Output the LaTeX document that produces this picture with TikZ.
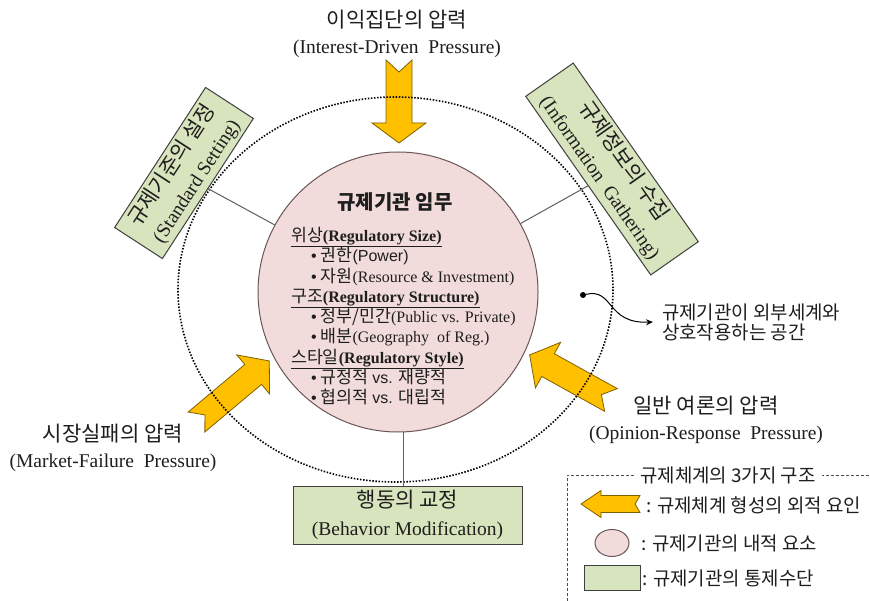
\documentclass[tikz,border=0pt]{standalone}
\usepackage{fontspec}
\setmainfont{Liberation Serif}
\newfontfamily\kr[Scale=1.08]{Noto Sans CJK KR}
\newfontfamily\ar{Liberation Sans}
\usetikzlibrary{shapes.geometric,arrows.meta}

\definecolor{ink}{HTML}{1E1E1E}
\definecolor{amber}{HTML}{FFC000}
\definecolor{amberline}{HTML}{7F6000}
\definecolor{blush}{HTML}{F2DCDB}
\definecolor{blushline}{HTML}{6B5757}
\definecolor{sage}{HTML}{D7E4BD}
\definecolor{sageline}{HTML}{3F3F3F}
\definecolor{linkgray}{HTML}{5F5F5F}

% heading line inside the central circle
\newcommand\sectline[2]{\underline{{\kr #1}\textbf{#2}}}
% bulleted entry inside the central circle
\newcommand\bulletline[1]{\hspace*{20pt}{\ar •}\ #1}

\begin{document}
\begin{tikzpicture}[x=1pt,y=-1pt,
  every node/.style={text=ink},
  pressure/.style={fill=amber,draw=amberline,line width=0.8pt,line join=miter},
  pics/pressarrow/.style args={#1/#2/#3/#4/#5}{code={
    \path[pressure] (0,#2) -- ({#1-#4},#2) -- ({#1-#4},#3) -- (#1,0)
      -- ({#1-#4},-#3) -- ({#1-#4},-#2) -- (0,-#2) -- (#5,0) -- cycle;}},
  zone/.style={draw=black,line width=1.6pt,dash pattern=on 1.5pt off 1.6pt},
  core/.style={circle,fill=blush,draw=blushline,line width=1pt,minimum size=280pt,inner sep=0pt},
  tool/.style={fill=sage,draw=sageline,line width=1pt,align=center,inner sep=0pt,
     font=\fontsize{19.5pt}{28.5pt}\selectfont},
  link/.style={draw=linkgray,line width=1pt},
  forcetext/.style={align=center,inner sep=0pt,font=\fontsize{19.5pt}{26pt}\selectfont},
  tasklist/.style={align=left,inner sep=0pt,font=\fontsize{16pt}{20.3pt}\selectfont},
  note/.style={align=left,inner sep=0pt,font=\kr\fontsize{17.5pt}{20pt}\selectfont},
  legendtext/.style={inner sep=0pt,font=\kr\fontsize{17.5pt}{20pt}\selectfont},
  dotmark/.style={circle,fill=black,inner sep=0pt,minimum size=6pt},
  legendframe/.style={draw=black!70,line width=0.8pt,densely dashed},
]
\useasboundingbox (0,0) rectangle (870,601);
\fill[white] (0,0) rectangle (870,601);

% external pressures (block arrows)
\pic[rotate=-90] at (399,60) {pressarrow=83/13/27/20/12};
\pic[rotate=40] at (196.5,422) {pressarrow=95/13/25.5/21/11};
\pic[rotate=151] at (611,400) {pressarrow=93/13/26/21/11};

% space of interaction with the outside world
\draw[zone] (395.5,289.5) ellipse [x radius=217.5, y radius=192.5];

% internal elements of the agency
\node[core] (core) at (398,292) {};
\node[inner sep=0pt,font=\fontsize{18.5pt}{24pt}\selectfont\kr\bfseries] (duty) at (395,202) {규제기관 임무};
\node[tasklist,anchor=north west] (tasks) at (291,227) {%
  \sectline{위상}{(Regulatory Size)}\\
  \bulletline{{\kr 권한}{\ar (Power)}}\\
  \bulletline{{\kr 자원}(Resource \& Investment)}\\
  \sectline{구조}{(Regulatory Structure)}\\
  \bulletline{{\kr 정부/민간}(Public vs. Private)}\\
  \bulletline{{\kr 배분}(Geography\ \ of Reg.)}\\
  \sectline{스타일}{(Regulatory Style)}\\
  \bulletline{{\kr 규정적} {\ar vs.} {\kr 재량적}}\\
  \bulletline{{\kr 협의적} {\ar vs.} {\kr 대립적}}};

% control instruments
\node[tool,rotate=57,minimum width=167pt,minimum height=57pt] (std) at (184,173)
  {{\kr 규제기준의 설정}\\(Standard Setting)};
\node[tool,rotate=-55,minimum width=218pt,minimum height=58pt] (info) at (612,169)
  {{\kr 규제정보의 수집}\\(Information\ \ Gathering)};
\node[tool,minimum width=229pt,minimum height=58pt] (behav) at (407.5,515)
  {{\kr 행동의 교정}\\(Behavior Modification)};
\draw[link] (std.south) -- (core);
\draw[link] (info.south) -- (core);
\draw[link] (behav.north -| 403,0) -- (403,432);

% pressure labels
\node[forcetext] (igp) at (397,33.5) {{\kr 이익집단의\ 압력}\\(Interest-Driven\ \ Pressure)};
\node[forcetext] (mfp) at (113,448) {{\kr 시장실패의\ 압력}\\(Market-Failure\ \ Pressure)};
\node[forcetext] (orp) at (706,419.5) {{\kr 일반\ 여론의\ 압력}\\(Opinion-Response\ \ Pressure)};

% annotation of the dotted zone
\node[dotmark] (spot) at (583,295) {};
\node[note,anchor=west] (outside) at (662,322) {규제기관이 외부세계와\\상호작용하는 공간};
\draw[line width=1pt,-{Stealth[length=7pt,width=6pt]}] (spot) .. controls (614,288) and (606,324) .. ([xshift=-9pt]outside.west);

% legend
\draw[legendframe] (567,601) -- (567,475) -- (870,475);
\node[legendtext,fill=white,inner xsep=6pt] (lgtitle) at (728,475) {규제체계의 3가지 구조};
\pic[rotate=180] at (640,504) {pressarrow=59/8.5/13.5/20/5};
\node[legendtext,anchor=west] (lg1) at (646,505) {: 규제체계 형성의 외적 요인};
\node[ellipse,fill=blush,draw=blushline,line width=1pt,minimum width=34pt,minimum height=27pt,inner sep=0pt] (lgcore) at (612,543) {};
\node[legendtext,anchor=west] (lg2) at (641,543) {: 규제기관의 내적 요소};
\node[fill=sage,draw=sageline,line width=1pt,minimum width=56pt,minimum height=25pt,inner sep=0pt] (lgtool) at (612,577.5) {};
\node[legendtext,anchor=west] (lg3) at (642,578) {: 규제기관의 통제수단};
\end{tikzpicture}
\end{document}
